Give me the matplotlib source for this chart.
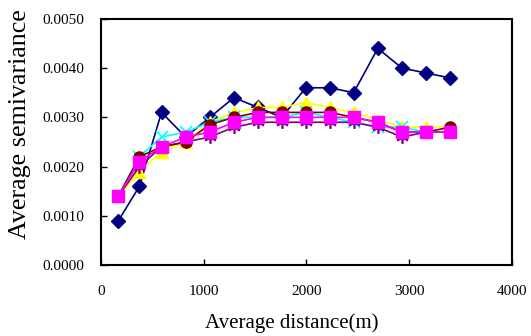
import matplotlib.pyplot as plt
from matplotlib.ticker import FormatStrFormatter

plt.rcParams['font.family'] = ['Liberation Serif', 'DejaVu Serif']

# lag distances (m)
distance = [170, 375, 590, 825, 1060, 1295, 1530, 1760, 1995, 2230, 2460, 2695, 2930, 3165, 3400]

# average semivariance for each series
s_diamond = [0.0009, 0.0016, 0.0031, 0.0026, 0.0030, 0.0034, 0.0032, 0.0030, 0.0036, 0.0036, 0.0035, 0.0044, 0.0040, 0.0039, 0.0038]
s_triangle = [0.0014, 0.0019, 0.0023, 0.0025, 0.0029, 0.0031, 0.0032, 0.0032, 0.0033, 0.0032, 0.0031, 0.00295, 0.0028, 0.0028, 0.0028]
s_cross = [0.0014, 0.0022, 0.0026, 0.0027, 0.0029, 0.0030, 0.0030, 0.0030, 0.0031, 0.0030, 0.0029, 0.0028, 0.0028, 0.0027, 0.0027]
s_star = [0.0014, 0.0020, 0.0024, 0.0025, 0.0026, 0.0028, 0.0029, 0.0029, 0.0029, 0.0029, 0.0029, 0.0028, 0.0026, 0.0027, 0.0027]
s_circle = [0.0014, 0.0022, 0.0024, 0.0025, 0.00285, 0.0030, 0.0031, 0.0031, 0.0031, 0.0031, 0.0030, 0.0029, 0.0027, 0.0027, 0.0028]
s_square = [0.0014, 0.0021, 0.0024, 0.0026, 0.0027, 0.0029, 0.0030, 0.0030, 0.0030, 0.0030, 0.0030, 0.0029, 0.0027, 0.0027, 0.0027]

fig = plt.figure(figsize=(5.31, 3.36), dpi=100)
ax = fig.add_axes([0.190, 0.211, 0.774, 0.733])

ax.plot(distance, s_diamond, color='#000080', marker='D', ms=7, lw=1.2, zorder=3)
ax.plot(distance, s_triangle, color='#FFFF00', marker='^', ms=9, lw=1.2, zorder=4)
ax.plot(distance, s_cross, color='#00FFFF', marker='x', ms=8, mew=1.2, lw=1.2, zorder=5)
ax.plot(distance, s_star, color='#800080', marker=(6, 2, 0), ms=9, mew=1.2, lw=1.2, zorder=6)
ax.plot(distance, s_circle, color='#800000', marker='o', ms=8, lw=1.2, zorder=7)
ax.plot(distance, s_square, color='#FF00FF', marker='s', ms=8, lw=1.2, zorder=8)

ax.set_xlim(0, 4000)
ax.set_ylim(0, 0.005)
ax.set_xticks([0, 1000, 2000, 3000, 4000])
ax.set_yticks([0, 0.001, 0.002, 0.003, 0.004, 0.005])
ax.yaxis.set_major_formatter(FormatStrFormatter('%.4f'))
ax.tick_params(direction='in', length=4, width=1, labelsize=11, top=False, right=False)
ax.tick_params(axis='y', pad=12)
ax.tick_params(axis='x', pad=14)
for sp in ax.spines.values():
    sp.set_linewidth(1.5)

ax.set_xlabel('Average distance(m)', fontsize=15)
ax.xaxis.set_label_coords(0.465, -0.195)
# long axis title runs off the top edge
fig.text(0.038, 0.29, 'Average semivariance', rotation=90, fontsize=18.7,
         ha='center', va='bottom')

fig.savefig('out.png', dpi=100)
